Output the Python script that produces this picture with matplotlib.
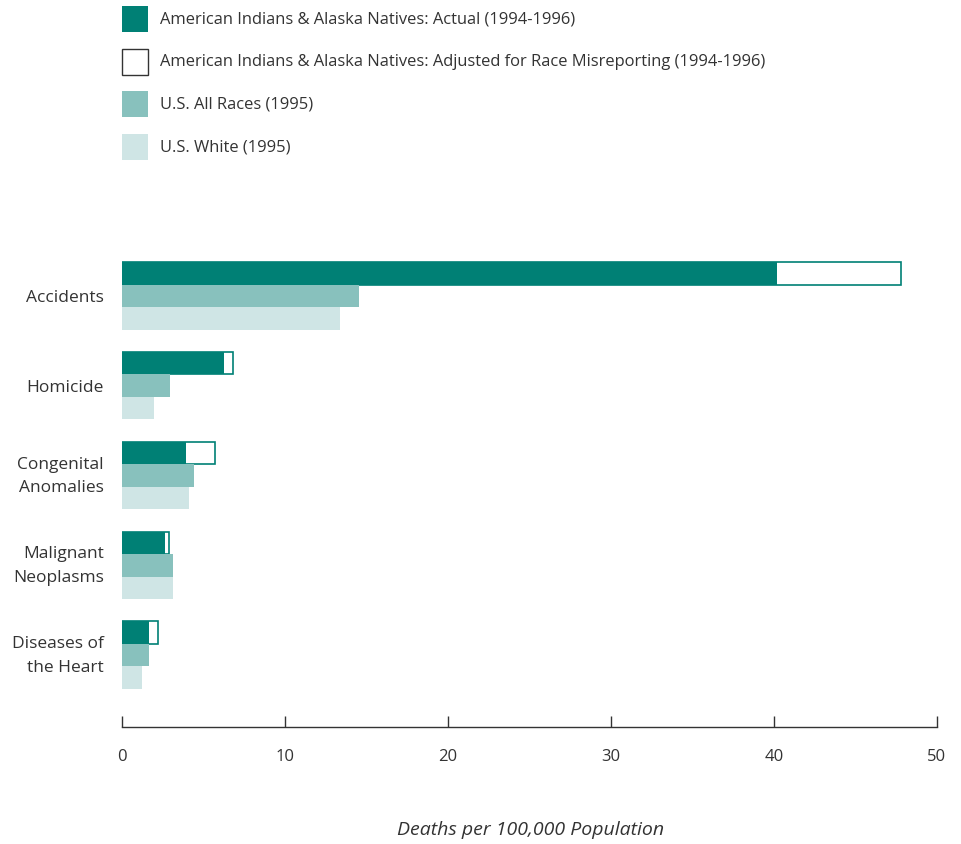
import numpy as np
import matplotlib.pyplot as plt
import matplotlib.transforms as mtrans
from matplotlib.patches import Rectangle

plt.rcParams['font.family'] = ['Open Sans', 'DejaVu Sans']

causes = ['Accidents', 'Homicide', 'Congenital\nAnomalies', 'Malignant\nNeoplasms', 'Diseases of\nthe Heart']
actual = [40.2, 6.26, 3.93, 2.64, 1.66]
adjusted = [47.8, 6.83, 5.69, 2.88, 2.19]
all_races = [14.54, 2.94, 4.42, 3.13, 1.66]
white = [13.37, 1.96, 4.11, 3.13, 1.23]

labels = ['American Indians & Alaska Natives: Actual (1994-1996)',
          'American Indians & Alaska Natives: Adjusted for Race Misreporting (1994-1996)',
          'U.S. All Races (1995)',
          'U.S. White (1995)']

c_actual = '#008075'
c_all = '#88c1bd'
c_white = '#cfe5e5'
c_text = '#333333'

W, H = 961, 844
fig = plt.figure(figsize=(W/100, H/100), dpi=100)
ax = fig.add_axes([122/W, 1-727/H, 815/W, 487/H])

y = np.arange(len(causes))
h = 0.25

# adjusted drawn as outline behind actual
ax.barh(y - h, adjusted, height=h, color='white', edgecolor=c_actual, linewidth=1.2, zorder=2)
ax.barh(y - h, actual, height=h, color=c_actual, zorder=3)
ax.barh(y, all_races, height=h, color=c_all, zorder=3)
ax.barh(y + h, white, height=h, color=c_white, zorder=3)

ax.set_xlim(0, 50)
ax.set_ylim(4.8, -0.622)
ax.set_yticks(y)
ax.set_yticklabels(causes, fontsize=12.5, color=c_text, ha='right',
                   multialignment='right', linespacing=1.65)
ax.tick_params(axis='y', length=0, pad=13)
# two-line labels sit a little high in the original
up = mtrans.ScaledTranslation(0, 5/100, fig.dpi_scale_trans)
for t in ax.get_yticklabels():
    if '\n' in t.get_text():
        t.set_transform(t.get_transform() + up)
ax.set_xticks([0, 10, 20, 30, 40, 50])
ax.tick_params(axis='x', direction='in', length=8, width=1, color=c_text,
               labelsize=12, labelcolor=c_text, pad=16)
for s in ['top', 'right', 'left']:
    ax.spines[s].set_visible(False)
ax.spines['bottom'].set_color(c_text)
ax.spines['bottom'].set_linewidth(1)

fig.text(531/W, 1-830/H, 'Deaths per 100,000 Population', ha='center', va='center',
         fontsize=14, style='italic', color=c_text)

# legend, drawn by hand
faces = [c_actual, 'white', c_all, c_white]
edges = ['none', c_text, 'none', 'none']
for i, (lab, fc, ec) in enumerate(zip(labels, faces, edges)):
    yc = 19 + i * 42.7
    fig.add_artist(Rectangle((122/W, 1-(yc+13)/H), 26/W, 26/H, transform=fig.transFigure,
                             facecolor=fc, edgecolor=ec, linewidth=1))
    fig.text(160/W, 1-yc/H, lab, ha='left', va='center', fontsize=11.9, color=c_text)

fig.savefig('out.png', dpi=100)
